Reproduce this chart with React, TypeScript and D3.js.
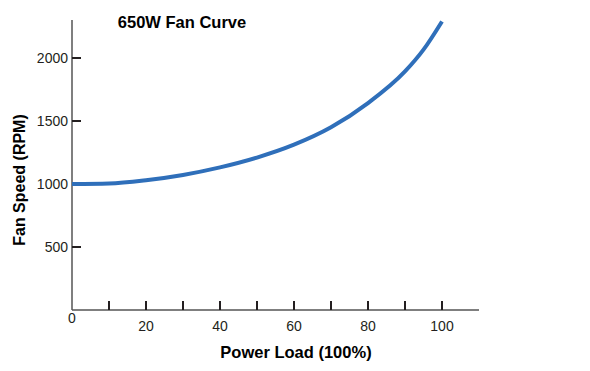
import React, { useEffect, useRef } from "react";
import * as d3 from "d3";

// fan curve
const loadPct = [0, 10, 20, 30, 40, 50, 60, 70, 80, 90, 95, 100];
const fanRpm = [1000, 1004, 1030, 1072, 1132, 1210, 1312, 1450, 1642, 1893, 2066, 2290];
const yTicks = [500, 1000, 1500, 2000];
const xTicks = [10, 20, 30, 40, 50, 60, 70, 80, 90, 100];
const xLabels = [20, 40, 60, 80, 100];

const W = 590, H = 371;

const App = () => {
  const ref = useRef<SVGSVGElement>(null);

  useEffect(() => {
    const svg = d3.select(ref.current);
    svg.selectAll("*").remove();

    const x = d3.scaleLinear().domain([0, 100]).range([72, 442]);
    const y = d3.scaleLinear().domain([0, 2000]).range([310, 58]);
    const font = "Liberation Sans, Arial, sans-serif";

    // axes
    svg.append("line")
      .attr("x1", x(0)).attr("x2", x(110))
      .attr("y1", y(0)).attr("y2", y(0))
      .attr("stroke", "#555").attr("stroke-width", 1.5);
    svg.append("line")
      .attr("x1", x(0)).attr("x2", x(0))
      .attr("y1", y(0)).attr("y2", 20)
      .attr("stroke", "#555").attr("stroke-width", 1.5);

    svg.selectAll(".xt").data(xTicks).enter().append("line")
      .attr("x1", d => x(d)).attr("x2", d => x(d))
      .attr("y1", y(0)).attr("y2", y(0) - 9)
      .attr("stroke", "#231f20").attr("stroke-width", 2);

    svg.selectAll(".yt").data(yTicks).enter().append("line")
      .attr("x1", x(0)).attr("x2", x(0) + 9)
      .attr("y1", d => y(d)).attr("y2", d => y(d))
      .attr("stroke", "#231f20").attr("stroke-width", 2);

    svg.selectAll(".yl").data(yTicks).enter().append("text")
      .attr("x", 68).attr("y", d => y(d) + 5)
      .attr("text-anchor", "end")
      .attr("font-family", font).attr("font-size", 14).attr("fill", "#231f20")
      .text(d => d);

    svg.selectAll(".xl").data(xLabels).enter().append("text")
      .attr("x", d => x(d)).attr("y", 331)
      .attr("text-anchor", "middle")
      .attr("font-family", font).attr("font-size", 14).attr("fill", "#231f20")
      .text(d => d);
    svg.append("text")
      .attr("x", x(0)).attr("y", 323)
      .attr("text-anchor", "middle")
      .attr("font-family", font).attr("font-size", 14).attr("fill", "#231f20")
      .text("0");

    // curve
    const line = d3.line<number>()
      .x((d, i) => x(loadPct[i]))
      .y(d => y(d))
      .curve(d3.curveMonotoneX);
    svg.append("path")
      .attr("d", line(fanRpm))
      .attr("fill", "none")
      .attr("stroke", "#2f6fba")
      .attr("stroke-width", 4);

    // titles
    svg.append("text")
      .attr("x", 182).attr("y", 28)
      .attr("text-anchor", "middle")
      .attr("font-family", font).attr("font-size", 16.5).attr("font-weight", "bold")
      .text("650W Fan Curve");
    svg.append("text")
      .attr("x", 296).attr("y", 358)
      .attr("text-anchor", "middle")
      .attr("font-family", font).attr("font-size", 16.5).attr("font-weight", "bold")
      .text("Power Load (100%)");
    svg.append("text")
      .attr("transform", "translate(25,180) rotate(-90)")
      .attr("text-anchor", "middle")
      .attr("font-family", font).attr("font-size", 16).attr("font-weight", "bold")
      .text("Fan Speed (RPM)");
  }, []);

  return (
    <svg ref={ref} width={W} height={H}
      style={{ position: "absolute", left: 0, top: 0, background: "#fff" }} />
  );
};

export default App;
